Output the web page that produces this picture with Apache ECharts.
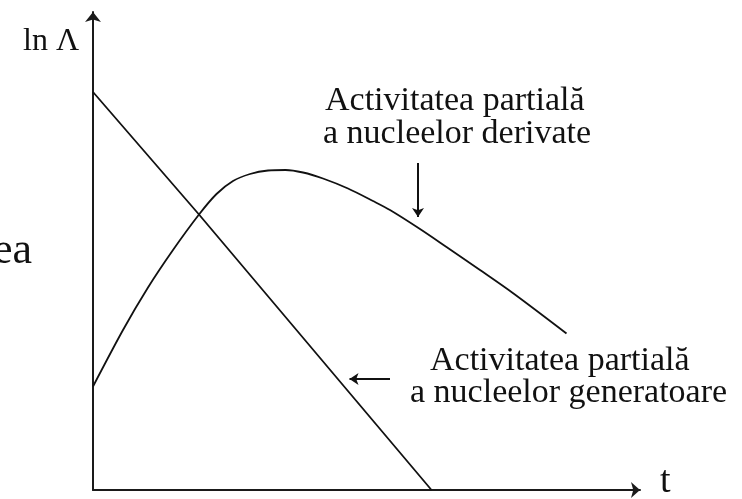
<!DOCTYPE html>
<html>
<head>
<meta charset="utf-8">
<script src="https://cdn.jsdelivr.net/npm/echarts@6/dist/echarts.min.js"></script>
<style>
  html, body { margin: 0; padding: 0; background: #fff; }
  #chart { width: 742px; height: 499px; }
</style>
</head>
<body>
<div id="chart"></div>
<script>
// ln A versus t for a radioactive parent–daughter pair (arbitrary units)
const generatorCurve = [[0, 79.6], [21.2, 55.1], [67.7, 0]];
const derivedCurve = [
  [0, 20.7], [6, 32], [11, 40.5], [16, 48], [21.2, 55.1], [24.7, 59.2],
  [28, 61.8], [31.4, 63.2], [35, 63.9], [38.5, 64], [42, 63.5], [46, 62.3],
  [51, 60.3], [56, 57.8], [59.4, 56], [65.4, 52.2], [70.7, 48.6],
  [77.4, 44], [84.1, 39.3], [94.7, 31.3]
];
// pointer arrows: [start, end] in data units
const derivedPointer = [[65, 65.4], [65, 54.6]];
const generatorPointer = [[59.4, 22.2], [51.3, 22.2]];

const axisLabelY = 'ln Λ';
const axisLabelX = 't';
const derivedText = ['Activitatea partială', 'a nucleelor derivate'];
const generatorText = ['Activitatea partială', 'a nucleelor generatoare'];
const sideText = 'ea';

const serif = '"Liberation Serif", "Times New Roman", serif';
const ink = '#111';

const chart = echarts.init(document.getElementById('chart'), null, { renderer: 'canvas' });

function pointer(pair) {
  return {
    silent: true,
    symbol: ['none', 'arrow'],
    symbolSize: [9, 9],
    label: { show: false },
    lineStyle: { color: ink, width: 2, type: 'solid' },
    emphasis: { disabled: true },
    data: [[{ coord: pair[0] }, { coord: pair[1] }]]
  };
}

function text(str, x, y, size, align) {
  return {
    type: 'text', x: x, y: y, silent: true,
    style: {
      text: str, font: size + 'px ' + serif, fill: ink,
      align: align || 'left', verticalAlign: 'middle'
    }
  };
}

chart.setOption({
  animation: false,
  backgroundColor: '#fff',
  grid: { left: 93, right: 102, top: 12, bottom: 9 },
  xAxis: {
    type: 'value', min: 0, max: 109.4,
    axisLine: { show: true, onZero: false, symbol: ['none', 'arrow'], symbolSize: [12, 9],
                lineStyle: { color: '#1a1a1a', width: 2 } },
    axisTick: { show: false }, axisLabel: { show: false }, splitLine: { show: false }
  },
  yAxis: {
    type: 'value', min: 0, max: 95.6,
    axisLine: { show: true, onZero: false, symbol: ['none', 'arrow'], symbolSize: [12, 10],
                lineStyle: { color: '#1a1a1a', width: 2 } },
    axisTick: { show: false }, axisLabel: { show: false }, splitLine: { show: false }
  },
  series: [
    {
      type: 'line', data: generatorCurve, showSymbol: false, smooth: false,
      lineStyle: { color: ink, width: 1.8 },
      markLine: pointer(generatorPointer)
    },
    {
      type: 'line', data: derivedCurve, showSymbol: false, smooth: 0.3,
      lineStyle: { color: ink, width: 1.8 },
      markLine: pointer(derivedPointer)
    }
  ],
  graphic: [
    text(axisLabelY, 23, 42, 32),
    text(axisLabelX, 660, 482, 38),
    text(sideText, 32, 251, 44, 'right'),
    text(derivedText[0], 325, 101.5, 34),
    text(derivedText[1], 323, 134.5, 34),
    text(generatorText[0], 430, 361.5, 34),
    text(generatorText[1], 410, 393.5, 34)
  ]
});
</script>
</body>
</html>
